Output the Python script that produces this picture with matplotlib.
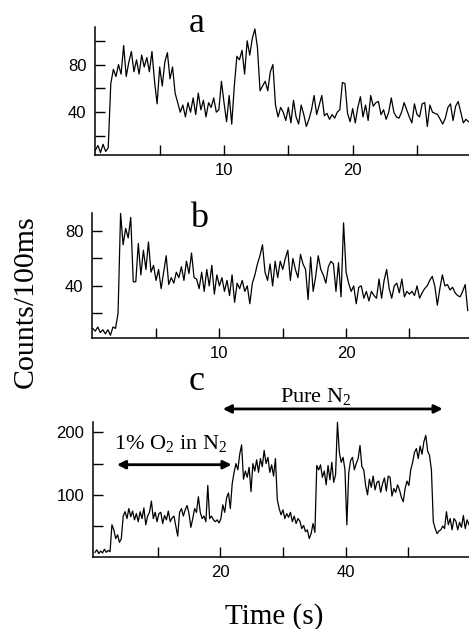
import numpy as np
import matplotlib
matplotlib.use("Agg")
import matplotlib.pyplot as plt

# counts per 100 ms
counts_a = [8, 12, 6, 13, 7, 10,
            64, 76, 70, 80, 72,
            96, 70, 82, 91, 74,
            84, 72, 88, 78, 86,
            74, 91, 66, 47, 78,
            62, 82, 90, 68, 78,
            56, 48, 40, 46, 36,
            48, 40, 52, 38, 56,
            42, 50, 36, 48, 44,
            52, 40, 42, 66, 48,
            32, 54, 30, 62, 87,
            84, 92, 72, 100, 88,
            102, 110, 94, 58, 62,
            66, 58, 74, 80, 46,
            36, 44,
            40, 33, 44, 31, 50,
            36, 30, 46, 38, 28,
            34, 42, 54, 38, 46,
            54, 37, 39, 34, 38,
            35, 40, 42, 65, 64,
            39, 32, 43, 31, 44,
            53, 36, 46, 33, 54,
            45, 48, 49, 38, 42,
            34, 40, 52, 40, 36,
            35, 40, 48, 42, 36,
            31, 47, 38, 36, 47,
            48, 28, 46, 40, 39,
            38, 34, 30, 35, 44,
            47, 33, 45, 49, 40,
            31, 34, 32]

counts_b = [9, 7, 10, 6, 8,
            5, 8, 4, 10, 9,
            20, 93, 70, 82, 75,
            90, 43, 43, 71, 48,
            66, 52, 72, 50, 55,
            44, 52, 38, 50, 62,
            41, 46, 42, 50, 46,
            54, 44, 58, 49, 64,
            46, 45, 38, 50, 36,
            52, 40, 55, 34, 48,
            40, 46, 36, 44, 33,
            48, 28, 42, 38, 44,
            36, 40, 27, 42, 48,
            56, 62, 70, 50, 44,
            56, 40, 58, 46, 58,
            52, 60, 66, 44, 60,
            52, 46, 63, 56, 52,
            30, 61, 36, 47, 62,
            52, 48, 42, 54, 58,
            56, 36, 57, 32, 86,
            50, 42, 36, 40, 27,
            39, 40, 31, 36, 29,
            36, 33, 31, 45, 31,
            44, 52, 38, 31, 40,
            42, 35, 45, 32, 36,
            34, 36, 33, 40, 31,
            35, 38, 40, 44, 47,
            40, 26, 38, 48, 40,
            41, 37, 39, 35, 33,
            32, 36, 41, 22]

counts_c = [8, 12, 6, 10, 7, 13, 8, 11, 9,
            52, 44, 30, 36, 24, 30, 66, 73, 62,
            78, 65, 74, 60, 70, 57, 73, 62, 79,
            52, 66, 72, 90, 62, 72, 57, 70, 72,
            54, 67, 60, 74, 57, 63, 66, 50, 34,
            72, 78, 66, 76, 83, 70, 48, 62, 78,
            72, 97, 72, 62, 66, 57, 115, 62, 66,
            60,
            57, 60, 55, 62, 84, 72, 95, 103, 78,
            118, 136, 150, 140, 165, 180, 125, 138, 128,
            144, 105, 150, 138, 156, 136, 158, 145, 171,
            150, 160, 136, 148, 130, 158, 92, 78, 68,
            76, 62, 70, 64, 72, 57, 66, 54, 62,
            58, 46, 51, 41, 44, 30, 38, 54, 40,
            147, 140, 148, 128, 138, 116, 147, 124, 152,
            120, 132, 216,
            168,
            152, 160, 140, 52, 135, 155, 160, 140, 150,
            158, 179, 145, 140, 115, 100, 125, 112, 130,
            108, 120, 122, 104, 118, 127, 106, 130, 128,
            98, 110, 104, 116, 108, 96, 89, 110, 122,
            115, 140, 152, 168, 174, 158, 178, 165, 185,
            195, 170, 163, 140, 57, 46, 38, 42, 44,
            50, 46, 73, 52, 62, 44, 62, 58, 44,
            56, 48, 67, 46, 60, 52]

dt_ab = 0.2
dt_c = 0.3
t_a = np.arange(len(counts_a)) * dt_ab
t_b = np.arange(len(counts_b)) * dt_ab
t_c = np.arange(len(counts_c)) * dt_c

plt.rcParams["font.family"] = "Liberation Sans"
plt.rcParams["mathtext.default"] = "regular"
serif = "Liberation Serif"

W, H = 469, 629
fig = plt.figure(figsize=(W / 100, H / 100), dpi=100)


def panel(left, top, bottom):
    return fig.add_axes([left / W, 1 - bottom / H, (W - left) / W, (bottom - top) / H])


ax_a = panel(94.7, 27, 155)
ax_b = panel(91.7, 212.7, 337.7)
ax_c = panel(92.7, 421.7, 556.7)

ax_a.plot(t_a, counts_a, color="black", lw=0.9)
ax_b.plot(t_b, counts_b, color="black", lw=0.9)
ax_c.plot(t_c, counts_c, color="black", lw=0.9, clip_on=False)

ax_a.set_xlim(-0.05, 29.04)
ax_a.set_ylim(4, 111.6)
ax_b.set_xlim(-0.08, 29.7)
ax_b.set_ylim(2.2, 93.4)
ax_c.set_xlim(-0.37, 59.7)
ax_c.set_ylim(1, 217)

ax_a.set_xticks([5, 10, 15, 20, 25], ["", "10", "", "20", ""])
ax_a.set_yticks([20, 40, 60, 80, 100], ["", "40", "", "80", ""])
ax_b.set_xticks([5, 10, 15, 20, 25], ["", "10", "", "20", ""])
ax_b.set_yticks([20, 40, 60, 80], ["", "40", "", "80"])
ax_c.set_xticks([10, 20, 30, 40, 50], ["", "20", "", "40", ""])
ax_c.set_yticks([50, 100, 150, 200], ["", "100", "", "200"])

for ax in (ax_a, ax_b, ax_c):
    ax.spines["top"].set_visible(False)
    ax.spines["right"].set_visible(False)
    ax.spines["left"].set_linewidth(1.1)
    ax.spines["bottom"].set_linewidth(1.1)
    ax.tick_params(direction="in", length=7, width=1, labelsize=12, pad=6)

# panel letters
fig.text(197 / W, 1 - 31.7 / H, "a", family=serif, size=26, ha="center", va="baseline")
fig.text(198.7 / W, 1 - 226.7 / H, "b", family=serif, size=26, ha="center", va="baseline")
fig.text(197 / W, 1 - 390 / H, "c", family=serif, size=26, ha="center", va="baseline")

# gas annotations in panel c
ax_c.annotate("", xy=(20.4, 237.4), xytext=(55.5, 237.4),
              arrowprops=dict(arrowstyle="<|-|>", lw=2, color="black",
                              mutation_scale=12, shrinkA=0, shrinkB=0),
              annotation_clip=False)
ax_c.text(35.2, 247.9, "Pure N$_2$", family=serif, size=16,
          ha="center", va="baseline", clip_on=False)
ax_c.annotate("", xy=(3.5, 148.2), xytext=(21.8, 148.2),
              arrowprops=dict(arrowstyle="<|-|>", lw=2, color="black",
                              mutation_scale=12, shrinkA=0, shrinkB=0),
              annotation_clip=False)
ax_c.text(12.0, 173.7, "1% O$_2$ in N$_2$", family=serif, size=16,
          ha="center", va="baseline")

fig.text(26 / W, 1 - 302 / H, "Counts/100ms", family=serif, size=21.5,
         rotation=90, ha="center", va="center")
fig.text(274 / W, 1 - 623.3 / H, "Time (s)", family=serif, size=21,
         ha="center", va="baseline")

fig.savefig("out.png", dpi=100)
